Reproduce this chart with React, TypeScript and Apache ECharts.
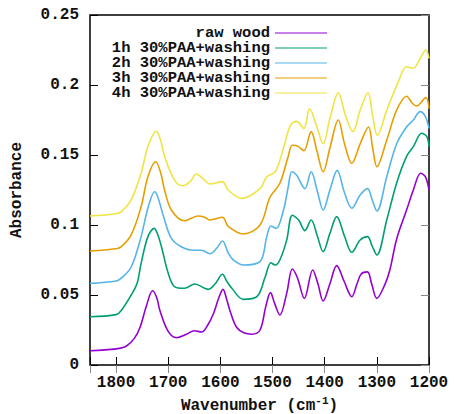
import React, { useEffect, useRef } from "react";
import * as echarts from "echarts";

const seriesNames = [
  "raw wood",
  "1h 30%PAA+washing",
  "2h 30%PAA+washing",
  "3h 30%PAA+washing",
  "4h 30%PAA+washing",
];
const seriesColors = ["#9400D3", "#009E73", "#56B4E9", "#E69F00", "#F0E442"];

const xTicks = [1200, 1300, 1400, 1500, 1600, 1700, 1800];
const yTicks = [0, 0.05, 0.1, 0.15, 0.2, 0.25];

const rawWood: [number, number][] = [
  [1850, 0.0102], [1800, 0.0115], [1780, 0.0136], [1765, 0.019], [1754, 0.027],
  [1742, 0.042], [1730, 0.053], [1722, 0.048], [1716, 0.039], [1700, 0.024],
  [1684, 0.0195], [1665, 0.022], [1650, 0.0245], [1636, 0.0236], [1625, 0.028],
  [1613, 0.037], [1603, 0.048], [1595, 0.054], [1588, 0.047], [1581, 0.038],
  [1569, 0.027], [1555, 0.023], [1540, 0.022], [1524, 0.025], [1513, 0.0417],
  [1504, 0.0517], [1496, 0.044], [1486, 0.0357], [1473, 0.051], [1462, 0.0686],
  [1452, 0.062], [1439, 0.0476], [1423, 0.0679], [1413, 0.058], [1403, 0.0457],
  [1390, 0.058], [1377, 0.071], [1363, 0.06], [1348, 0.0488], [1338, 0.058],
  [1330, 0.065], [1318, 0.0665], [1310, 0.058], [1300, 0.0476], [1284, 0.058],
  [1275, 0.068], [1262, 0.09], [1243, 0.1107], [1230, 0.125], [1216, 0.137],
  [1207, 0.1345], [1200, 0.125],
];

const paa1h: [number, number][] = [
  [1850, 0.0345], [1800, 0.036], [1790, 0.039], [1771, 0.05], [1760, 0.058],
  [1752, 0.0726], [1739, 0.0917], [1727, 0.0976], [1720, 0.093], [1713, 0.0845],
  [1700, 0.0655], [1688, 0.056], [1669, 0.0548], [1649, 0.0579], [1630, 0.0548],
  [1623, 0.054], [1610, 0.058], [1596, 0.0648], [1588, 0.06], [1578, 0.0548],
  [1556, 0.0469], [1530, 0.0488], [1514, 0.063], [1503, 0.073], [1495, 0.0714],
  [1486, 0.075], [1473, 0.089], [1462, 0.107], [1450, 0.1036], [1438, 0.096],
  [1426, 0.1036], [1414, 0.092], [1403, 0.081], [1390, 0.094], [1377, 0.106],
  [1362, 0.092], [1348, 0.0805], [1332, 0.0893], [1318, 0.0917], [1309, 0.085],
  [1300, 0.0786], [1281, 0.1036], [1262, 0.13], [1243, 0.149], [1230, 0.156],
  [1214, 0.1655], [1204, 0.163], [1200, 0.156],
];

const paa2h: [number, number][] = [
  [1850, 0.0583], [1800, 0.06], [1790, 0.062], [1771, 0.07], [1752, 0.0917],
  [1739, 0.112], [1726, 0.1238], [1720, 0.12], [1707, 0.1036], [1694, 0.0905],
  [1675, 0.0845], [1652, 0.082], [1636, 0.082], [1620, 0.0795], [1608, 0.083],
  [1596, 0.0886], [1585, 0.08], [1575, 0.075], [1556, 0.0714], [1524, 0.0738],
  [1511, 0.0917], [1503, 0.0993], [1493, 0.0976], [1479, 0.1107], [1470, 0.127],
  [1463, 0.138], [1454, 0.1357], [1438, 0.126], [1426, 0.138], [1414, 0.124],
  [1403, 0.1107], [1390, 0.125], [1376, 0.139], [1362, 0.123], [1348, 0.112],
  [1332, 0.1214], [1318, 0.126], [1309, 0.118], [1300, 0.11], [1281, 0.1345],
  [1262, 0.158], [1243, 0.17], [1230, 0.175], [1217, 0.181], [1207, 0.1774],
  [1200, 0.169],
];

const paa3h: [number, number][] = [
  [1850, 0.0814], [1800, 0.083], [1790, 0.0845], [1771, 0.093], [1752, 0.113],
  [1739, 0.1345], [1724, 0.1452], [1715, 0.138], [1707, 0.125], [1694, 0.1107],
  [1669, 0.103], [1643, 0.1064], [1630, 0.1055], [1620, 0.1036], [1596, 0.1055],
  [1585, 0.099], [1556, 0.0936], [1524, 0.1], [1505, 0.1198], [1486, 0.1298],
  [1470, 0.149], [1462, 0.157], [1450, 0.156], [1440, 0.153], [1426, 0.1667],
  [1415, 0.153], [1403, 0.138], [1390, 0.155], [1374, 0.175], [1362, 0.158],
  [1348, 0.144], [1332, 0.158], [1316, 0.17], [1308, 0.155], [1300, 0.1417],
  [1281, 0.1607], [1262, 0.182], [1243, 0.192], [1232, 0.187], [1224, 0.185],
  [1206, 0.191], [1200, 0.183],
];

const paa4h: [number, number][] = [
  [1850, 0.1064], [1800, 0.108], [1790, 0.1095], [1771, 0.118], [1752, 0.137],
  [1739, 0.156], [1723, 0.167], [1715, 0.161], [1707, 0.149], [1688, 0.132],
  [1672, 0.128], [1658, 0.131], [1646, 0.1364], [1633, 0.133], [1620, 0.1293],
  [1596, 0.131], [1585, 0.125], [1559, 0.119], [1524, 0.126], [1511, 0.1345],
  [1495, 0.138], [1482, 0.151], [1466, 0.171], [1454, 0.174], [1440, 0.169],
  [1429, 0.183], [1415, 0.17], [1403, 0.158], [1390, 0.176], [1374, 0.1945],
  [1360, 0.178], [1346, 0.1667], [1332, 0.182], [1317, 0.1945], [1308, 0.178],
  [1299, 0.164], [1281, 0.182], [1259, 0.202], [1243, 0.213], [1230, 0.212],
  [1217, 0.219], [1206, 0.225], [1200, 0.219],
];

const allData = [rawWood, paa1h, paa2h, paa3h, paa4h];

const FONT = "'Liberation Mono', 'DejaVu Sans Mono', monospace";

export default function App() {
  const ref = useRef<HTMLDivElement>(null);
  useEffect(() => {
    if (!ref.current) return;
    const chart = echarts.init(ref.current, undefined, { renderer: "svg" });
    const labelStyle = { fontFamily: FONT, fontSize: 16, fontWeight: "bold" as const, color: "#111" };
    const xBase = {
      type: "value" as const,
      min: 1200,
      max: 1850,
      interval: 100,
      inverse: true,
      splitLine: { show: false },
      axisLine: { show: false },
    };
    const yBase = {
      type: "value" as const,
      min: 0,
      max: 0.25,
      interval: 0.05,
      splitLine: { show: false },
      axisLine: { show: false },
    };
    chart.setOption({
      animation: false,
      backgroundColor: "#fff",
      grid: {
        left: 90,
        right: 25,
        top: 15,
        bottom: 49,
        show: true,
        borderColor: "#000",
        borderWidth: 1.5,
        backgroundColor: "transparent",
        outerBoundsMode: "none",
        containLabel: false,
      },
      legend: {
        orient: "vertical",
        align: "right",
        right: 127,
        top: 25,
        padding: 0,
        itemGap: -1,
        itemWidth: 52,
        itemHeight: 13,
        icon: "path://M0,6 L52,6 L52,7.2 L0,7.2 Z",
        textStyle: { ...labelStyle, fontSize: 15.5, lineHeight: 15, padding: [0, 0, 0, 0] },
        data: seriesNames.map((n, i) => ({ name: n, itemStyle: { color: seriesColors[i] } })),
      },
      xAxis: [
        {
          ...xBase,
          position: "bottom",
          name: "{a|Wavenumber (cm}{s|-1}{a|)}",
          nameLocation: "middle",
          nameGap: 30,
          nameTextStyle: {
            rich: {
              a: { ...labelStyle, lineHeight: 18, verticalAlign: "bottom" },
              s: { fontFamily: FONT, fontSize: 11, fontWeight: "bold", color: "#111", lineHeight: 18, verticalAlign: "top" },
            },
          },
          axisTick: { inside: true, length: 8, lineStyle: { color: "#000", width: 1 } },
          axisLabel: {
            ...labelStyle,
            margin: 10,
            formatter: (v: number) => (xTicks.includes(v) ? String(v) : ""),
          },
        },
        {
          ...xBase,
          position: "top",
          axisTick: { inside: true, length: 8, lineStyle: { color: "#888", width: 1 } },
          axisLabel: { show: false },
        },
      ],
      yAxis: [
        {
          ...yBase,
          position: "left",
          name: "Absorbance",
          nameLocation: "middle",
          nameGap: 65,
          nameTextStyle: { ...labelStyle },
          axisTick: { inside: true, length: 8, lineStyle: { color: "#000", width: 1 } },
          axisLabel: {
            ...labelStyle,
            margin: 11,
            formatter: (v: number) => {
              const t = yTicks.find((y) => Math.abs(y - v) < 1e-9);
              return t === undefined ? "" : String(t);
            },
          },
        },
        {
          ...yBase,
          position: "right",
          axisTick: { inside: true, length: 8, lineStyle: { color: "#888", width: 1 } },
          axisLabel: { show: false },
        },
      ],
      series: allData.map((d, i) => ({
        name: seriesNames[i],
        type: "line",
        data: d,
        xAxisIndex: 0,
        yAxisIndex: 0,
        showSymbol: false,
        symbol: "none",
        smooth: 0.35,
        lineStyle: { color: seriesColors[i], width: 1.6 },
        itemStyle: { color: seriesColors[i] },
        z: 2 + i,
      })),
    });
    return () => chart.dispose();
  }, []);
  return (
    <div
      ref={ref}
      style={{ position: "fixed", left: 0, top: 0, width: 454, height: 414, background: "#fff" }}
    />
  );
}
